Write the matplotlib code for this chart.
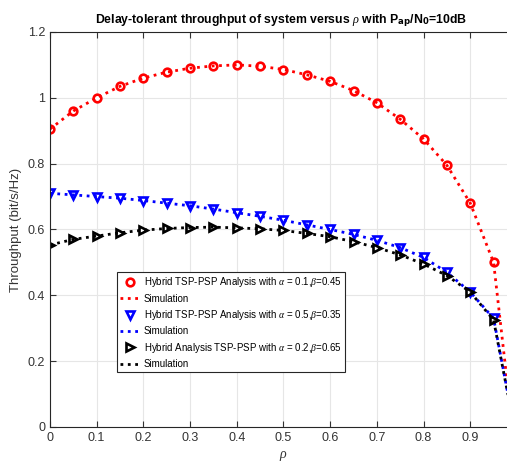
import matplotlib
matplotlib.use("Agg")
import matplotlib.pyplot as plt

plt.rcParams["font.family"] = ["Liberation Sans", "DejaVu Sans"]
plt.rcParams["mathtext.fontset"] = "custom"
plt.rcParams["mathtext.it"] = "Liberation Serif:italic"

rho = [0, 0.05, 0.1, 0.15, 0.2, 0.25, 0.3, 0.35, 0.4, 0.45,
       0.5, 0.55, 0.6, 0.65, 0.7, 0.75, 0.8, 0.85, 0.9, 0.95]
red = [0.905, 0.96, 1.0, 1.035, 1.06, 1.078, 1.09, 1.097, 1.1, 1.096,
       1.086, 1.07, 1.05, 1.022, 0.985, 0.935, 0.875, 0.795, 0.68, 0.5]
blue = [0.71, 0.705, 0.70, 0.695, 0.688, 0.68, 0.672, 0.662, 0.651, 0.64,
        0.628, 0.614, 0.6, 0.585, 0.567, 0.545, 0.515, 0.47, 0.41, 0.33]
black = [0.553, 0.57, 0.58, 0.59, 0.598, 0.603, 0.606, 0.607, 0.605, 0.602,
         0.597, 0.588, 0.578, 0.563, 0.545, 0.523, 0.495, 0.46, 0.41, 0.325]

# simulation curves carry one extra point near rho = 1
rho_sim = rho + [0.99]
red_sim = red + [0.0]
blue_sim = blue + [0.03]
black_sim = black + [0.03]

fig = plt.figure(figsize=(5.07, 4.67), dpi=100)
ax = fig.add_axes([0.0986, 0.0857, 0.921, 0.8458])

ax.plot(rho, red, "o", color="red", mfc="white", mew=1.9, ms=5.5,
        label=r"Hybrid TSP-PSP Analysis with $\alpha$ = 0.1,$\beta$=0.45")
ax.plot(rho_sim, red_sim, ":", color="red", lw=2.0, label="Simulation")
ax.plot(rho, blue, "v", color="blue", mfc="white", mew=1.9, ms=6,
        label=r"Hybrid TSP-PSP Analysis with $\alpha$ = 0.5,$\beta$=0.35")
ax.plot(rho_sim, blue_sim, ":", color="blue", lw=2.0, label="Simulation")
ax.plot(rho, black, ">", color="black", mfc="white", mew=1.9, ms=6,
        label=r"Hybrid Analysis TSP-PSP with $\alpha$ = 0.2,$\beta$=0.65")
ax.plot(rho_sim, black_sim, ":", color="black", lw=2.0, label="Simulation")

ax.set_xlim(0, 1)
ax.set_ylim(0, 1.2)
ax.set_xticks([0, 0.1, 0.2, 0.3, 0.4, 0.5, 0.6, 0.7, 0.8, 0.9])
ax.set_xticklabels(["0", "0.1", "0.2", "0.3", "0.4", "0.5", "0.6", "0.7", "0.8", "0.9"])
ax.set_yticks([0, 0.2, 0.4, 0.6, 0.8, 1, 1.2])
ax.set_yticklabels(["0", "0.2", "0.4", "0.6", "0.8", "1", "1.2"])
ax.tick_params(direction="in", top=True, right=True, labelsize=9, colors="#333333", length=4)
ax.grid(True, color="#e6e6e6", lw=0.8)
for s in ax.spines.values():
    s.set_color("#262626")
    s.set_linewidth(0.8)

ax.set_xlabel(r"$\rho$", fontsize=10, color="#333333")
ax.set_ylabel("Throughput (bit/s/Hz)", fontsize=9.5, color="#333333")
fig.text(0.555, 0.955, r"Delay-tolerant throughput of system versus $\rho$ with P$_{\mathbf{ap}}$/N$_{\mathbf{0}}$=10dB",
         ha="center", va="center", fontsize=8.8, fontweight="bold")

leg = ax.legend(loc="lower left", bbox_to_anchor=(0.143, 0.139), fontsize=7.0,
                handlelength=2.2, handletextpad=0.3, borderpad=0.3, labelspacing=0.45,
                fancybox=False, edgecolor="#262626", framealpha=1, borderaxespad=0)
leg.get_frame().set_linewidth(0.8)

fig.savefig("out.png", dpi=100)
